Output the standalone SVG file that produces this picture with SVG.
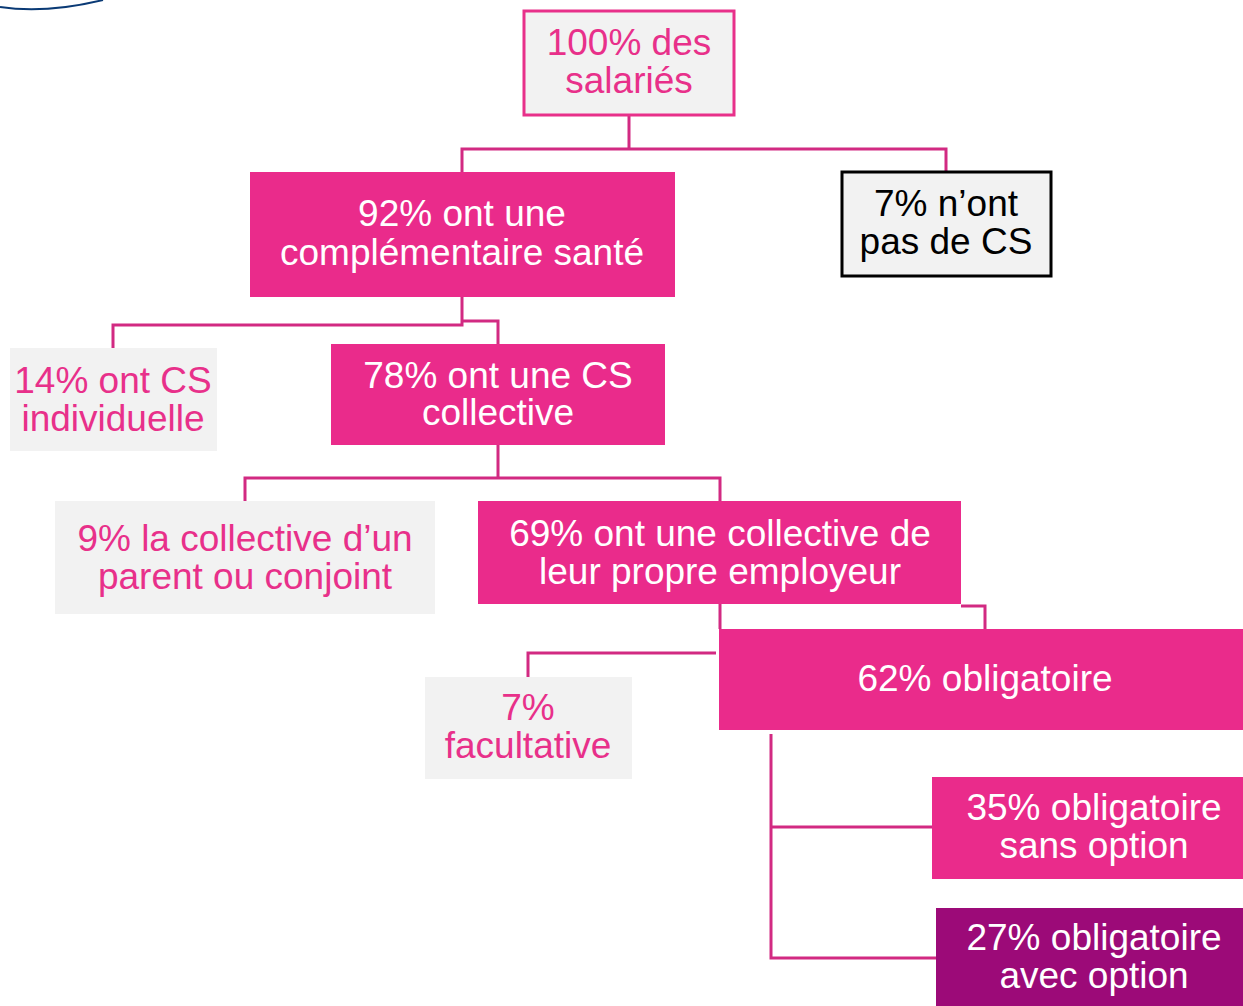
<svg xmlns="http://www.w3.org/2000/svg" width="1243" height="1006" viewBox="0 0 1243 1006">
<style>
text{font-family:"Liberation Sans",Arial,sans-serif;font-size:37px;text-anchor:middle}
.pk{fill:#ea2b8b}
.gr{fill:#f2f2f2}
.pu{fill:#9c0a78}
.tw{fill:#ffffff}
.tp{fill:#e8308a}
.tb{fill:#000000}
.con path{fill:none;stroke:#d22a82;stroke-width:3}
</style>
<rect width="1243" height="1006" fill="#ffffff"/>
<path d="M0,7 Q45,14 103,0" fill="none" stroke="#0a3a75" stroke-width="2"/>
<g class="con">
<path d="M629,116 V149 M462,172 V149 H946 V171"/>
<path d="M462,297 V325 H113 V348 M462,321 H498 V344"/>
<path d="M498,445 V478 M245,501 V478 H720 V501"/>
<path d="M720,604 V629 M961,606 H985 V629"/>
<path d="M716,653 H528 V677"/>
<path d="M771,734 V958 H936 M771,827 H932"/>
</g>
<g id="n100">
<rect x="524" y="11" width="210" height="104" class="gr" stroke="#e8308a" stroke-width="3"/>
<text class="tp" x="629" y="55">100% des</text>
<text class="tp" x="629" y="93">salariés</text>
</g>
<g id="n92">
<rect x="250" y="172" width="425" height="125" class="pk"/>
<text class="tw" x="462" y="226">92% ont une</text>
<text class="tw" x="462" y="265">complémentaire santé</text>
</g>
<g id="n7a">
<rect x="842" y="172" width="209" height="104" class="gr" stroke="#000000" stroke-width="3"/>
<text class="tb" x="946" y="216">7% n’ont</text>
<text class="tb" x="946" y="254">pas de CS</text>
</g>
<g id="n14">
<rect x="10" y="348" width="207" height="103" class="gr"/>
<text class="tp" x="113" y="393">14% ont CS</text>
<text class="tp" x="113" y="431">individuelle</text>
</g>
<g id="n78">
<rect x="331" y="344" width="334" height="101" class="pk"/>
<text class="tw" x="498" y="388">78% ont une CS</text>
<text class="tw" x="498" y="425">collective</text>
</g>
<g id="n9">
<rect x="55" y="501" width="380" height="113" class="gr"/>
<text class="tp" x="245" y="551">9% la collective d’un</text>
<text class="tp" x="245" y="589">parent ou conjoint</text>
</g>
<g id="n69">
<rect x="478" y="501" width="483" height="103" class="pk"/>
<text class="tw" x="720" y="546">69% ont une collective de</text>
<text class="tw" x="720" y="584">leur propre employeur</text>
</g>
<g id="n62">
<rect x="719" y="629" width="524" height="101" class="pk"/>
<text class="tw" x="985" y="691">62% obligatoire</text>
</g>
<g id="n7b">
<rect x="425" y="677" width="207" height="102" class="gr"/>
<text class="tp" x="528" y="720">7%</text>
<text class="tp" x="528" y="758">facultative</text>
</g>
<g id="n35">
<rect x="932" y="777" width="311" height="102" class="pk"/>
<text class="tw" x="1094" y="820">35% obligatoire</text>
<text class="tw" x="1094" y="858">sans option</text>
</g>
<g id="n27">
<rect x="936" y="908" width="307" height="98" class="pu"/>
<text class="tw" x="1094" y="950">27% obligatoire</text>
<text class="tw" x="1094" y="988">avec option</text>
</g>
</svg>
